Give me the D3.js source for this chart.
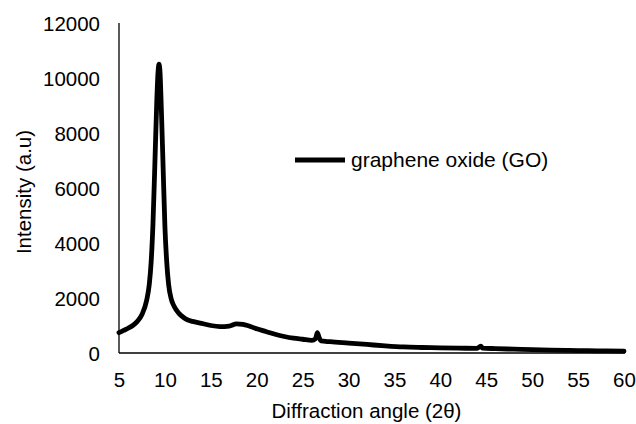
<!DOCTYPE html>
<html>
<head>
<meta charset="utf-8">
<script src="https://cdn.jsdelivr.net/npm/d3@7"></script>
<style>
  html, body { margin: 0; padding: 0; background: #fff; }
  svg { display: block; }
  text { font-family: "Liberation Sans", Arial, sans-serif; fill: #000; }
</style>
</head>
<body>
<svg id="chart" width="636" height="424"></svg>
<script>
// Data
const seriesName = "graphene oxide (GO)";
const angle = [5.0, 5.5, 6.0, 6.5, 7.0, 7.5, 8.0, 8.3, 8.5, 8.7, 8.9, 9.1, 9.25, 9.35, 9.45, 9.6, 9.8, 10.0, 10.2, 10.4, 10.7, 11.0, 11.5, 12.0, 12.5, 13.0, 14.0, 15.0, 16.0, 17.0, 17.8, 18.5, 19.0, 20.0, 21.0, 22.0, 23.0, 24.0, 25.0, 26.0, 26.4, 26.6, 26.8, 27.0, 28.0, 30.0, 32.0, 34.0, 36.0, 38.0, 40.0, 42.0, 44.0, 44.4, 44.6, 46.0, 48.0, 50.0, 52.0, 54.0, 56.0, 58.0, 60.0];
const intensity = [740, 820, 900, 1000, 1150, 1400, 1900, 2500, 3300, 4700, 6800, 9000, 10200, 10500, 10300, 9000, 6800, 4600, 3300, 2500, 1950, 1700, 1450, 1300, 1200, 1150, 1080, 1000, 960, 980, 1060, 1040, 1000, 880, 780, 680, 600, 540, 500, 460, 520, 740, 560, 440, 410, 360, 310, 260, 220, 200, 185, 175, 170, 250, 180, 160, 140, 120, 105, 95, 85, 75, 65];
const xTicks = [5, 10, 15, 20, 25, 30, 35, 40, 45, 50, 55, 60];
const yTicks = [0, 2000, 4000, 6000, 8000, 10000, 12000];
const xTitle = "Diffraction angle (2θ)";
const yTitle = "Intensity (a.u)";

const svg = d3.select("#chart");
const pLeft = 119, pRight = 624, pTop = 23, pBottom = 353;
const fs = "20.5px";

const x = d3.scaleLinear().domain([5, 60]).range([pLeft, pRight]);
const y = d3.scaleLinear().domain([0, 12000]).range([pBottom, pTop]);

// Axes (no tick marks, labels only)
const xAxis = d3.axisBottom(x).tickValues(xTicks).tickSize(0).tickPadding(0).tickFormat(d3.format("d"));
const yAxis = d3.axisLeft(y).tickValues(yTicks).tickSize(0).tickPadding(0).tickFormat(d3.format("d"));

const gx = svg.append("g").attr("transform", `translate(0,${pBottom})`).call(xAxis);
gx.select(".domain").attr("stroke", "#000").attr("stroke-width", 1.3).attr("d", `M${pLeft},0H${pRight + 1}`);
gx.selectAll(".tick text").attr("y", 0).attr("dy", 34).style("font-size", fs).style("font-family", "Liberation Sans, Arial, sans-serif").attr("fill", "#000");

const gy = svg.append("g").attr("transform", `translate(${pLeft},0)`).call(yAxis);
gy.select(".domain").attr("stroke", "#000").attr("stroke-width", 1.3).attr("d", `M0,${pTop}V${pBottom}`);
gy.selectAll(".tick text").attr("x", -19).attr("dy", "0.35em").style("font-size", fs).style("font-family", "Liberation Sans, Arial, sans-serif").attr("fill", "#000");

// Series line
const pts = angle.map((a, i) => [a, intensity[i]]);
const line = d3.line().x(d => x(d[0])).y(d => y(d[1])).curve(d3.curveMonotoneX);
svg.append("path")
  .datum(pts)
  .attr("fill", "none")
  .attr("stroke", "#000")
  .attr("stroke-width", 4.8)
  .attr("stroke-linejoin", "round")
  .attr("stroke-linecap", "round")
  .attr("d", line);

// Axis titles
svg.append("text")
  .attr("x", (pLeft + pRight) / 2 - 5)
  .attr("y", 418)
  .attr("text-anchor", "middle")
  .style("font-size", fs)
  .text(xTitle);

svg.append("text")
  .attr("transform", `translate(31,${(pTop + pBottom) / 2 + 4}) rotate(-90)`)
  .attr("text-anchor", "middle")
  .style("font-size", fs)
  .text(yTitle);

// Legend
const lg = svg.append("g");
lg.append("line")
  .attr("x1", 295).attr("x2", 345)
  .attr("y1", 160).attr("y2", 160)
  .attr("stroke", "#000").attr("stroke-width", 4.8);
lg.append("text")
  .attr("x", 351).attr("y", 167)
  .style("font-size", "21px")
  .text(seriesName);
</script>
</body>
</html>
